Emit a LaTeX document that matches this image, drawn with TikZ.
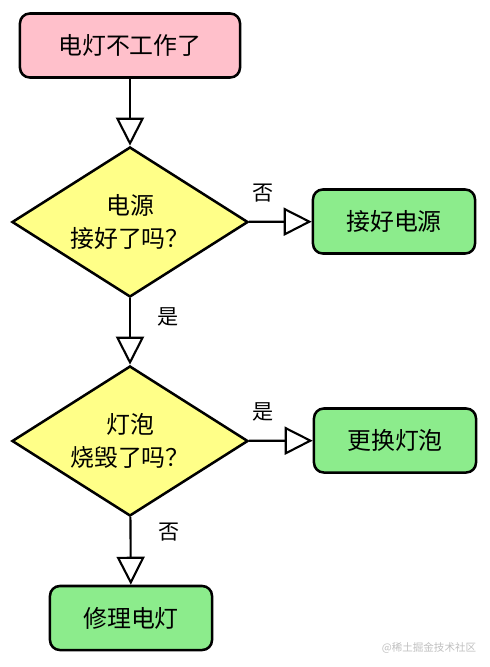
\documentclass[tikz,border=0pt]{standalone}
\usepackage{fontspec}
\newfontfamily\cjk{Noto Sans CJK SC}
\usetikzlibrary{arrows.meta,shapes.geometric}
\definecolor{startpink}{HTML}{FFC0CB}
\definecolor{askyellow}{HTML}{FFFF88}
\definecolor{dogreen}{HTML}{8CEC8C}

\begin{document}
\begin{tikzpicture}[x=0.025cm,y=-0.025cm,line width=1.5pt,
  >={Triangle[length=7mm,width=7mm,fill=white,line width=1.5pt]},
  font=\cjk\fontsize{17}{23.5}\selectfont,
  box/.style={draw,rounded corners=7pt,line width=1.8pt,align=center,inner sep=0pt,
    minimum width=4.05cm,minimum height=1.6cm,fill=dogreen},
  ask/.style={draw,diamond,aspect=1.57,fill=askyellow,line width=1.8pt,align=center,
    inner sep=0pt,minimum width=5.9cm,minimum height=3.75cm},
  lbl/.style={font=\cjk\fontsize{15}{18}\selectfont}]
\useasboundingbox (0,0) rectangle (489,667);
% start
\node[box,fill=startpink,minimum width=5.5cm] (fault) at (130,45.5) {电灯不工作了};
% questions
\node[ask] (power) at (130,222) {电源\\接好了吗？};
\node[ask] (bulb) at (130,441) {灯泡\\烧毁了吗？};
% actions
\node[box] (plug) at (394,221.5) {接好电源};
\node[box] (swap) at (395,440.5) {更换灯泡};
\node[box] (fix) at (131,618) {修理电灯};
\draw[->] (fault) -- (power);
\draw[->] (power) -- node[lbl,pos=.22,above=0.35cm]{否} (plug);
\draw[->] (power) -- node[lbl,pos=.28,right=0.55cm]{是} (bulb);
\draw[->] (bulb) -- node[lbl,pos=.22,above=0.35cm]{是} (swap);
\draw[->] (bulb) -- node[lbl,pos=.22,right=0.55cm]{否} (fix);
% watermark
\node[text=gray!50,font=\cjk\fontsize{7.5}{9}\selectfont] (mark) at (429,648) {@稀土掘金技术社区};
\end{tikzpicture}
\end{document}
